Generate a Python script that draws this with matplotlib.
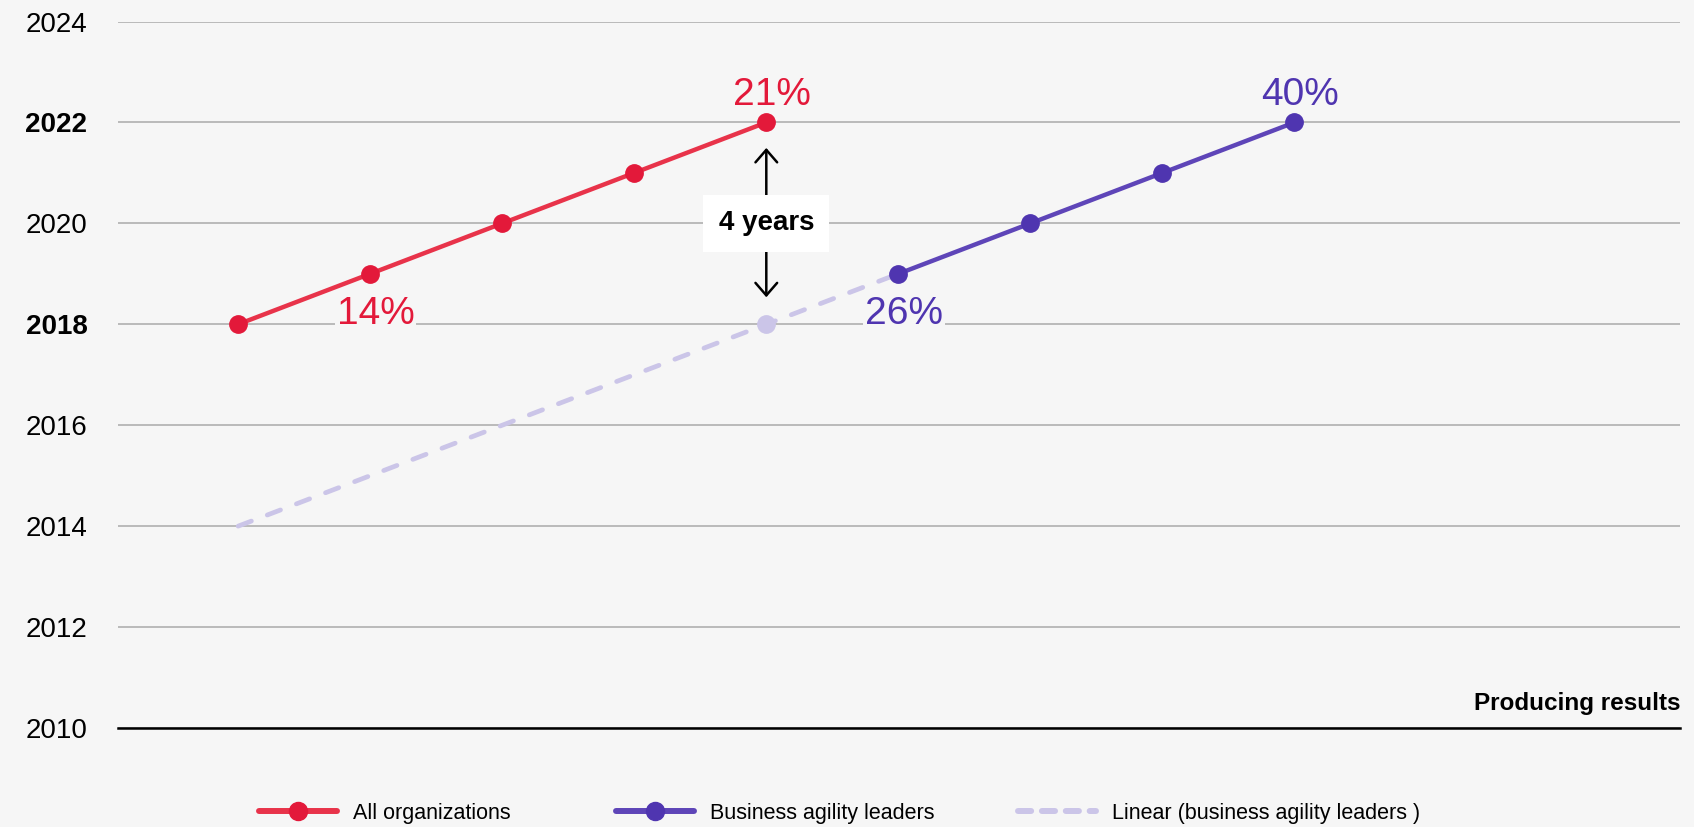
import matplotlib.pyplot as plt
from matplotlib.lines import Line2D

plt.rcParams['font.family'] = ['Liberation Sans', 'DejaVu Sans']

# data: x = step along "Producing results", y = year
all_x = [0, 1, 2, 3, 4]
all_years = [2018, 2019, 2020, 2021, 2022]
lead_x = [5, 6, 7, 8]
lead_years = [2019, 2020, 2021, 2022]
lin_x = [0, 5]
lin_years = [2014, 2019]
lin_mark_x = [4]
lin_mark_years = [2018]

# value labels: (x, year, text, series)
pct_labels = [(1, 2018.2, '14%', 'all'), (4, 2022.55, '21%', 'all'),
              (5, 2018.2, '26%', 'lead'), (8, 2022.55, '40%', 'lead')]

yticks = [2010, 2012, 2014, 2016, 2018, 2020, 2022, 2024]
bold_years = [2018, 2022]

red_line = '#e8334a'
red_mark = '#e3193a'
pur_line = '#5e45b8'
pur_mark = '#4f35b0'
lav = '#cbc5e8'
bg = '#f6f6f6'

fig = plt.figure(figsize=(16.94, 8.27), dpi=100, facecolor=bg)
ax = fig.add_axes([118/1694, 1 - 728/827, (1680-118)/1694, (728-21.5)/827])
ax.set_facecolor(bg)

ax.plot(lin_x, lin_years, color=lav, lw=3.4, dashes=(3.0, 3.6),
        dash_capstyle='round', zorder=2)
ax.plot(lin_mark_x, lin_mark_years, 'o', color=lav, ms=12.5, zorder=3)
ax.plot(all_x, all_years, color=red_line, lw=3.2, marker='o', ms=12.5,
        mfc=red_mark, mec=red_mark, zorder=4)
ax.plot(lead_x, lead_years, color=pur_line, lw=3.2, marker='o', ms=12.5,
        mfc=pur_mark, mec=pur_mark, zorder=4)

for x, y, t, s in pct_labels:
    c = red_mark if s == 'all' else pur_mark
    ax.text(x + 0.04, y, t, color=c, fontsize=28, ha='center', va='center',
            zorder=3, bbox=dict(boxstyle='square,pad=0.05', fc=bg, ec='none'))

# 4 years gap marker
arrow_style = '->,head_length=0.3,head_width=0.26'
ax.annotate('', xy=(4, 2021.55), xytext=(4, 2020.5),
            arrowprops=dict(arrowstyle=arrow_style, color='black', lw=1.8,
                            mutation_scale=30), zorder=5)
ax.annotate('', xy=(4, 2018.48), xytext=(4, 2019.5),
            arrowprops=dict(arrowstyle=arrow_style, color='black', lw=1.8,
                            mutation_scale=30), zorder=5)
ax.text(4, 2020, '4 years', fontsize=20, fontweight='bold', ha='center',
        va='center', zorder=6,
        bbox=dict(boxstyle='square,pad=0.55', fc='white', ec='none'))

ax.text(1, 2010.36, 'Producing results', transform=ax.get_yaxis_transform(),
        fontsize=17.5, fontweight='bold', ha='right', va='baseline')

ax.set_xlim(-0.91, 10.92)
ax.set_ylim(2010, 2024)
ax.set_yticks(yticks)
ax.set_yticklabels([str(y) for y in yticks], fontsize=20)
for lbl, y in zip(ax.get_yticklabels(), yticks):
    if y in bold_years:
        lbl.set_fontweight('bold')
ax.tick_params(axis='y', length=0, pad=22)
ax.set_xticks([])
ax.grid(axis='y', color='#b0b0b0', lw=1.2)
ax.set_axisbelow(True)
for sp in ['top', 'right', 'left']:
    ax.spines[sp].set_visible(False)
ax.spines['bottom'].set_color('black')
ax.spines['bottom'].set_linewidth(1.8)
ax.spines['bottom'].set_zorder(3)

# legend, one entry each so the spacing can match
entries = [
    (Line2D([], [], color=red_line, lw=4.3, marker='o', ms=13, mfc=red_mark, mec=red_mark,
            solid_capstyle='round'),
     'All organizations', 259),
    (Line2D([], [], color=pur_line, lw=4.3, marker='o', ms=13, mfc=pur_mark, mec=pur_mark,
            solid_capstyle='round'),
     'Business agility leaders', 616),
    (Line2D([], [], color=lav, lw=4.3, dashes=(2.2, 1.8), dash_capstyle='round'),
     'Linear (business agility leaders )', 1018),
]
for h, lab, xp in entries:
    leg = fig.legend([h], [lab], loc='center left', bbox_to_anchor=(xp/1694, 1 - 813/827),
                     frameon=False, fontsize=15.5, handlelength=3.6, handletextpad=0.75,
                     borderpad=0, borderaxespad=0)
    leg.set_zorder(10)

fig.savefig('out.png', dpi=100, facecolor=bg)
